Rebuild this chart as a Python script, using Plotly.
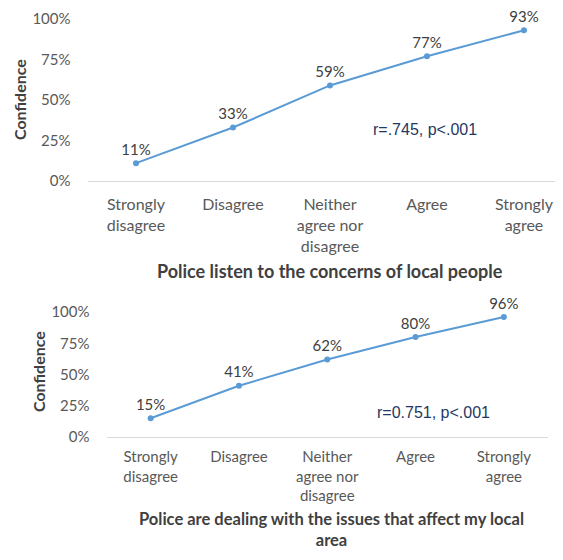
import plotly.graph_objects as go

categories = ["Strongly<br>disagree", "Disagree", "Neither<br>agree nor<br>disagree", "Agree", "Strongly<br>agree"]
listen_values = [0.11, 0.33, 0.59, 0.77, 0.93]
dealing_values = [0.15, 0.41, 0.62, 0.80, 0.96]
y_ticks = [0, 0.25, 0.5, 0.75, 1.0]
y_tick_labels = ["0%", "25%", "50%", "75%", "100%"]

# the page body keeps an 8px margin, so the figure is drawn inside it
PAD = 8
W, H = 563 - 2 * PAD, 560 - 2 * PAD
_LINE = "#5B9BD5"
_GRAY = "#595959"
_DARK = "#404040"
_NAVY = "#1F3864"
FONT = "Lato"


def px(x):
    return (x - PAD) / W


def py(y):
    return 1 - (y - PAD) / H


fig = go.Figure()
idx = list(range(len(categories)))

for vals, xa, ya in [(listen_values, "x", "y"), (dealing_values, "x2", "y2")]:
    fig.add_trace(
        go.Scatter(
            x=idx,
            y=vals,
            xaxis=xa,
            yaxis=ya,
            mode="lines+markers+text",
            line=dict(color=_LINE, width=2),
            marker=dict(color=_LINE, size=6),
            text=[f"{round(v * 100)}%" for v in vals],
            textposition="top center",
            textfont=dict(family=FONT, size=15, color=_DARK),
            cliponaxis=False,
            showlegend=False,
        )
    )

xcommon = dict(
    tickvals=idx,
    ticktext=categories,
    showline=True,
    linecolor="#d9d9d9",
    linewidth=1,
    showgrid=False,
    zeroline=False,
    ticks="",
    automargin=False,
)
ycommon = dict(
    range=[0, 1],
    tickvals=y_ticks,
    ticktext=y_tick_labels,
    showgrid=False,
    zeroline=False,
    showline=False,
    ticks="",
    automargin=False,
    ticklabelstandoff=16,
    tickfont=dict(family=FONT, size=15, color=_GRAY),
)

fig.update_layout(
    width=W,
    height=H,
    margin=dict(l=0, r=0, t=0, b=0),
    paper_bgcolor="white",
    plot_bgcolor="white",
    xaxis=dict(domain=[px(87.5), px(555)], range=[-0.5, 4.32], anchor="y",
               ticklabelstandoff=9, tickfont=dict(family=FONT, size=16, color=_GRAY), **xcommon),
    yaxis=dict(domain=[py(181), py(19)], anchor="x", **ycommon),
    # bottom panel is tighter: slightly smaller labels so the wrapped title fits
    xaxis2=dict(domain=[px(106.5), px(548)], range=[-0.5, 4.5], anchor="y2",
                ticklabelstandoff=6, tickfont=dict(family=FONT, size=15, color=_GRAY), **xcommon),
    yaxis2=dict(domain=[py(437), py(312)], anchor="x2", **ycommon),
)

annos = [
    # axis titles
    dict(x=px(19), y=py(100), text="<b>Confidence</b>", textangle=-90,
         font=dict(family=FONT, size=16, color=_DARK)),
    dict(x=px(38), y=py(372), text="<b>Confidence</b>", textangle=-90,
         font=dict(family=FONT, size=16, color=_DARK)),
    # chart titles below the category labels
    dict(x=px(330), y=py(271), text="<b>Police listen to the concerns of local people</b>",
         font=dict(family=FONT, size=18, color=_DARK)),
    dict(x=px(331), y=py(529), text="<b>Police are dealing with the issues that affect my local<br>area</b>",
         font=dict(family=FONT, size=16.5, color=_DARK)),
    # correlation notes
    dict(x=px(371), y=py(130), text="r=.745, p<.001", xanchor="left",
         font=dict(family="Liberation Sans", size=16, color=_NAVY)),
    dict(x=px(375), y=py(412), text="r=0.751, p<.001", xanchor="left",
         font=dict(family="Liberation Sans", size=16, color=_NAVY)),
]
for a in annos:
    a.setdefault("xanchor", "center")
    fig.add_annotation(xref="paper", yref="paper", showarrow=False, yanchor="middle", **a)

fig.write_html("out.html")
